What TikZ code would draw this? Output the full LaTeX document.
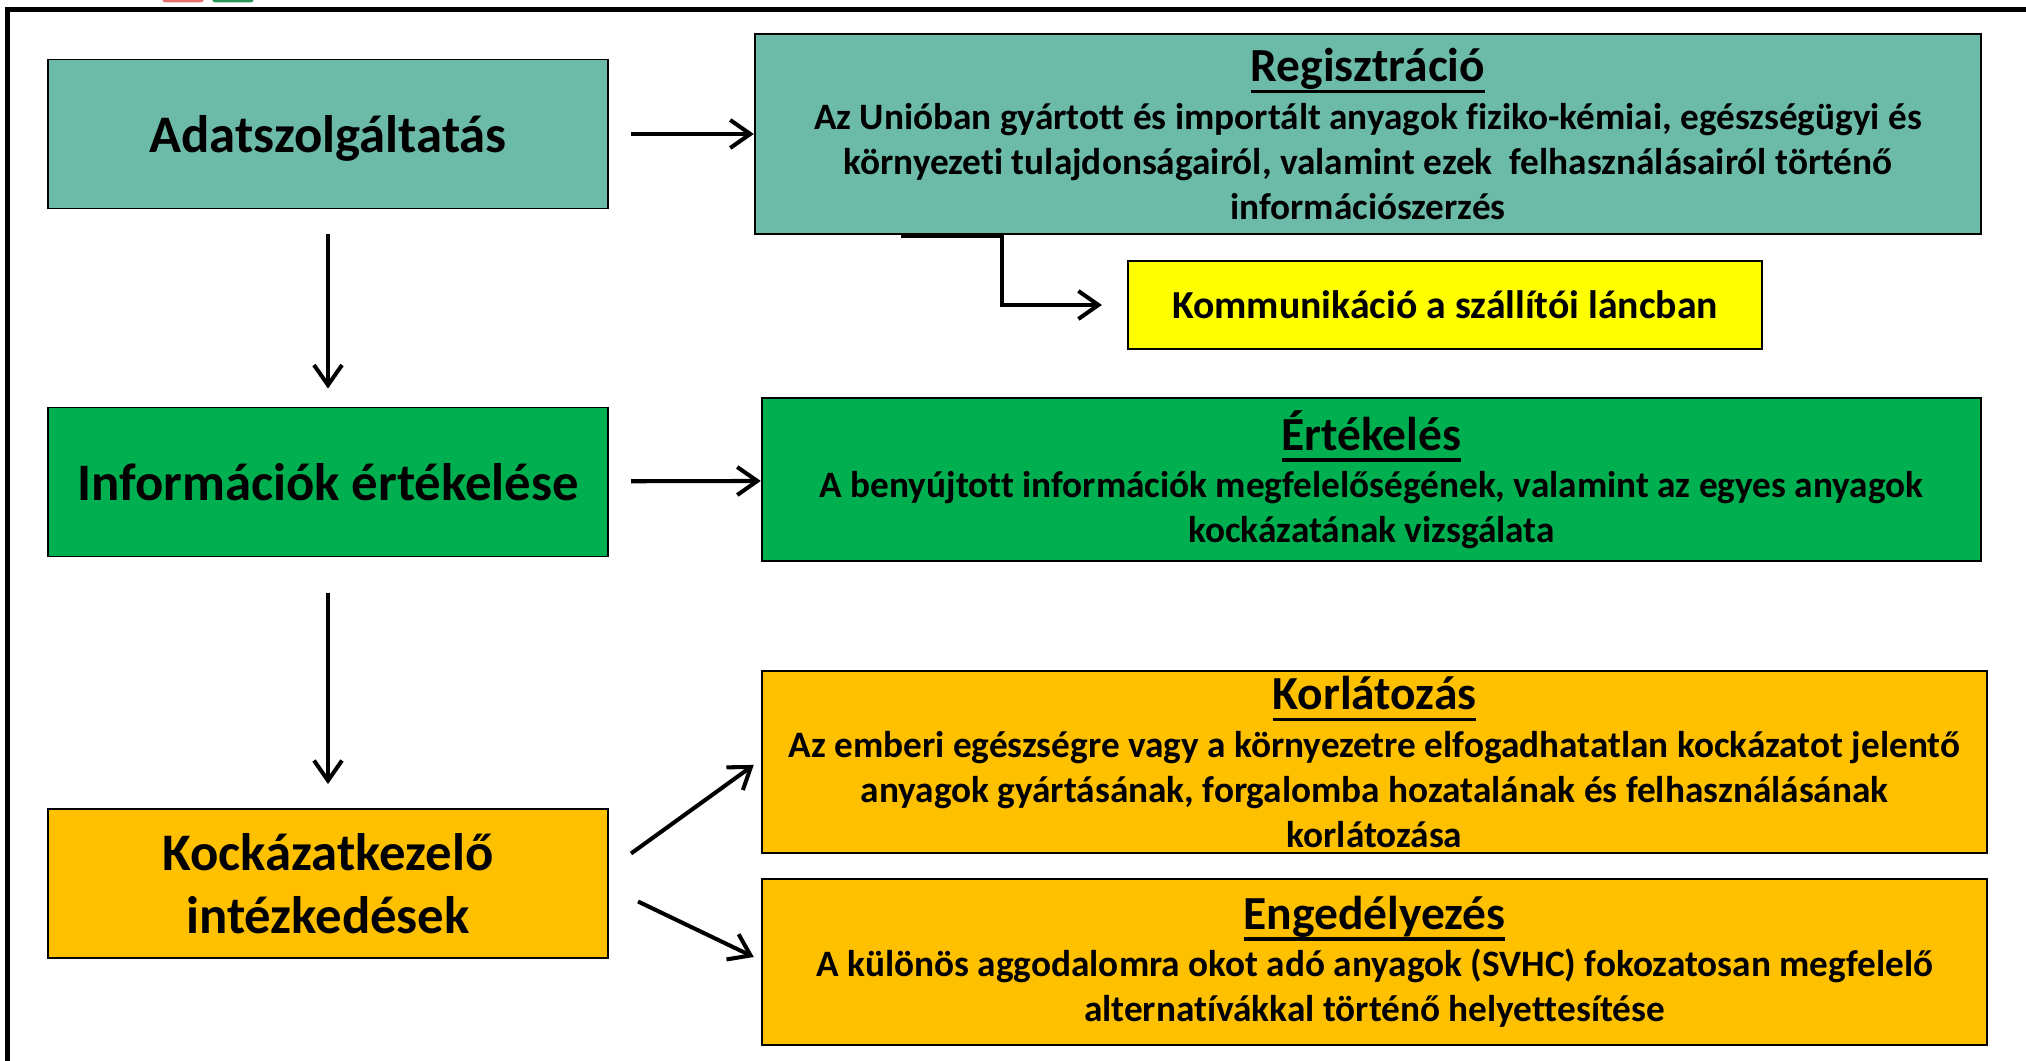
\documentclass[tikz,border=0pt]{standalone}
\usepackage{fontspec}
\setmainfont{Carlito}[Ligatures=NoCommon]
\usetikzlibrary{arrows.meta, calc}

\definecolor{tealbox}{RGB}{108,186,168}
\definecolor{greenbox}{RGB}{0,176,80}
\definecolor{goldbox}{RGB}{255,192,0}
\definecolor{yellowbox}{RGB}{255,255,0}
\definecolor{logored}{RGB}{232,112,108}
\definecolor{logogreen}{RGB}{40,150,90}

\newcommand{\ttl}[1]{{\fontsize{13.5}{16}\selectfont\setbox0\hbox{#1}\rlap{\rule[-3.3pt]{\wd0}{1.1pt}}\box0}}

\begin{document}
\begin{tikzpicture}[x=0.01cm, y=-0.01cm,
box/.style={draw, line width=0.5pt, inner sep=0pt, align=center},
leftbox/.style={box, minimum width=5.6cm, minimum height=1.49cm, font=\bfseries\fontsize{15}{18}\selectfont},
rightbox/.style={box, font=\bfseries\fontsize{10.6}{12.8}\selectfont},
arr/.style={line width=1.15pt, -{Straight Barb[length=2mm, width=2.8mm]}}]
\path[use as bounding box] (0,0) rectangle (2026,1061);
\clip (0,0) rectangle (2026,1061);

% frame and logo remains
\fill[logored, rounded corners=1] (162,-10) rectangle (204,2.5);
\fill[logogreen, rounded corners=1] (212,-10) rectangle (254,2.5);
\draw[line width=1.4pt] (7.5,1100) -- (7.5,9.5) -- (2100,9.5);

\node[leftbox, fill = tealbox, text depth=0pt] (adat) at (328,134) {Adatszolgáltatás};
\node[rightbox, fill = tealbox, minimum width=12.26cm, minimum height=2cm] (reg) at (1368,134)
{\ttl{Regisztráció}\\[0.7pt]
Az Unióban gyártott és importált anyagok fiziko-kémiai, egészségügyi és\\
környezeti tulajdonságairól, valamint ezek\ \ felhasználásairól történő\\
információszerzés};
\node[box, fill = yellowbox, minimum width=6.34cm, minimum height=0.88cm, font=\bfseries\fontsize{11.3}{13}\selectfont] (komm) at (1445,305) {Kommunikáció a szállítói láncban};

\node[leftbox, fill = greenbox] (info) at (328,482) {Információk értékelése};
\node[rightbox, fill = greenbox, minimum width=12.19cm, minimum height=1.63cm] (ert) at (1371.5,479.5)
{\ttl{Értékelés}\\[0.7pt]
A benyújtott információk megfelelőségének, valamint az egyes anyagok\\
kockázatának vizsgálata};

\node[leftbox, fill = goldbox] (kock) at (328,883.5) {Kockázatkezelő\\intézkedések};
\node[rightbox, fill = goldbox, minimum width=12.25cm, minimum height=1.82cm] (korl) at (1374.5,762)
{\ttl{Korlátozás}\\[0.7pt]
Az emberi egészségre vagy a környezetre elfogadhatatlan kockázatot jelentő\\
anyagok gyártásának, forgalomba hozatalának és felhasználásának\\
korlátozása};
\node[rightbox, fill = goldbox, minimum width=12.25cm, minimum height=1.66cm] (enged) at (1374.5,962)
{\ttl{Engedélyezés}\\[0.7pt]
A különös aggodalomra okot adó anyagok (SVHC) fokozatosan megfelelő\\
alternatívákkal történő helyettesítése};

\draw[arr, shorten <=0.22cm] (adat) -- (reg);
\draw[arr, shorten <=0.22cm] (info) -- (ert);
\draw[arr, shorten <=0.25cm, shorten >=0.18cm] (adat) -- (info);
\draw[arr, shorten <=0.36cm, shorten >=0.24cm] (info) -- (kock);
\draw[arr, shorten >=0.25cm] ($(reg.south west)+(147,1)$) -- ++(101,0) |- (komm.west);
\draw[arr] ($(kock.east)+(22,-30)$) -- ($(korl.south west)+(-7,-89)$);
\draw[arr] ($(kock.east)+(29,18)$) -- ($(enged.west)+(-7,-5)$);
\end{tikzpicture}
\end{document}
